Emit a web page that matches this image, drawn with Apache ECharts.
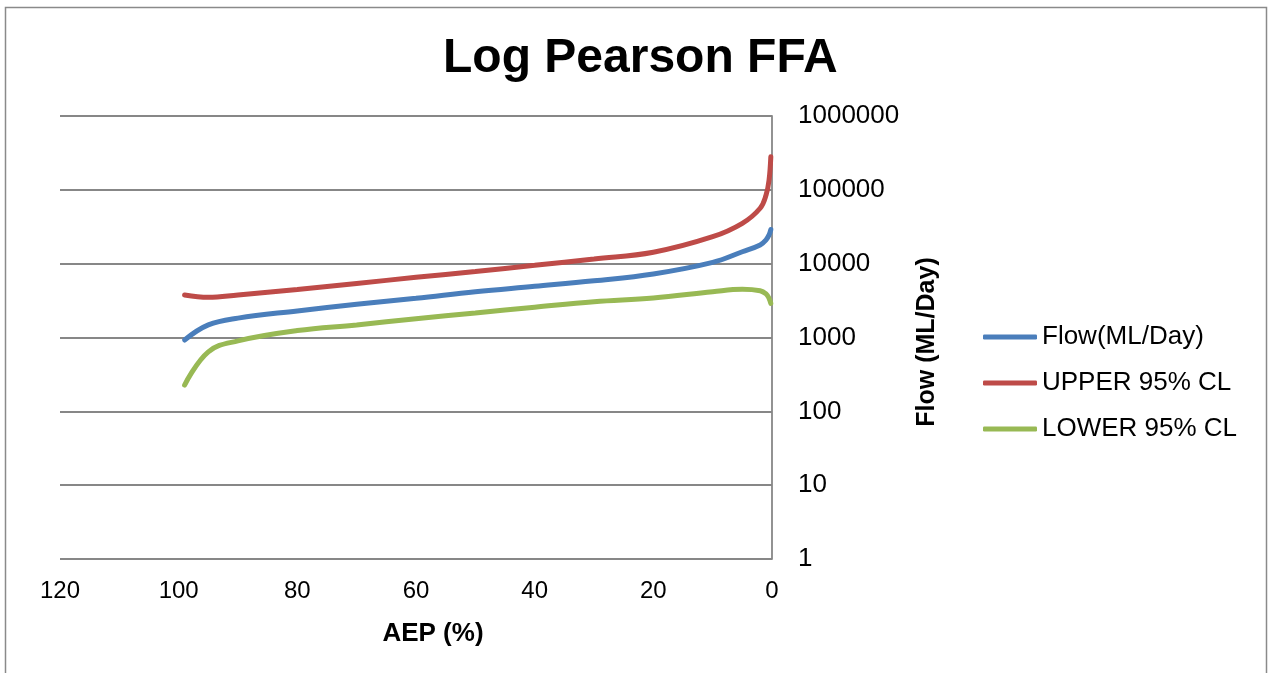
<!DOCTYPE html>
<html>
<head>
<meta charset="utf-8">
<script src="https://cdn.jsdelivr.net/npm/echarts@6/dist/echarts.min.js"></script>
<style>
  html, body { margin: 0; padding: 0; background: #ffffff; }
  #chart { width: 1269px; height: 673px; }
</style>
</head>
<body>
<div id="chart"></div>
<script>
// Annual exceedance probability (%) for each quantile
const aep = [99, 95, 90, 80, 70, 60, 50, 40, 30, 20, 10, 5, 2, 1, 0.5, 0.2];
// Flood quantiles (ML/Day)
const flow  = [925, 1480, 1830, 2290, 2820, 3390, 4170, 4930, 5860, 7250, 10400, 14500, 17900, 21000, 24500, 29000];
const upper = [3770, 3500, 3770, 4470, 5400, 6530, 7840, 9500, 11600, 14300, 23200, 35200, 56300, 85000, 135000, 280000];
const lower = [227, 640, 900, 1240, 1480, 1800, 2150, 2570, 3050, 3430, 4170, 4500, 4300, 3890, 3400, 2900];

const xTickLabels = ['0', '20', '40', '60', '80', '100', '120'];
const yTickLabels = ['1', '10', '100', '1000', '10000', '100000', '1000000'];

const seriesNames = ['Flow(ML/Day)', 'UPPER 95% CL', 'LOWER 95% CL'];
const seriesColors = ['#4A7EBB', '#BE4B48', '#98B954'];

function pairs(values) {
  return aep.map((p, i) => [p, values[i]]);
}

const chart = echarts.init(document.getElementById('chart'), null, { renderer: 'canvas' });

const fontFamily = 'Liberation Sans, Arial, sans-serif';

chart.setOption({
  animation: false,
  backgroundColor: '#ffffff',
  title: {
    text: 'Log Pearson FFA',
    left: 438,
    top: 30,
    textStyle: { fontFamily, fontSize: 48, fontWeight: 'bold', color: '#000' }
  },
  graphic: [{
    type: 'rect',
    shape: { x: 5.5, y: 7.5, width: 1261, height: 700 },
    style: { fill: 'none', stroke: '#8a8a8a', lineWidth: 1.5 },
    silent: true
  }],
  legend: {
    orient: 'vertical',
    left: 978,
    top: 319,
    icon: 'roundRect',
    itemWidth: 54,
    itemHeight: 5,
    itemGap: 20,
    data: seriesNames,
    textStyle: { fontFamily, fontSize: 26, color: '#000' }
  },
  grid: { left: 60, right: 497, top: 116, bottom: 114 },
  xAxis: {
    type: 'value',
    inverse: true,
    min: 0,
    max: 120,
    interval: 20,
    name: 'AEP (%)',
    nameLocation: 'middle',
    nameGap: 62,
    nameTextStyle: { fontFamily, fontSize: 26, fontWeight: 'bold', color: '#000', padding: [0, 0, 0, 34] },
    axisLine: { show: false },
    axisTick: { show: false },
    splitLine: { show: false },
    axisLabel: {
      margin: 20,
      fontFamily, fontSize: 24, color: '#000',
      formatter: (v, i) => xTickLabels[i]
    }
  },
  yAxis: {
    type: 'log',
    logBase: 10,
    min: 1,
    max: 1000000,
    position: 'right',
    name: 'Flow (ML/Day)',
    nameLocation: 'middle',
    nameRotate: 90,
    nameGap: 143,
    nameTextStyle: { fontFamily, fontSize: 25, fontWeight: 'bold', color: '#000', padding: [0, 9, 0, 0] },
    axisLine: { show: true, lineStyle: { color: '#878787', width: 1.8 } },
    axisTick: { show: false },
    splitLine: { show: true, lineStyle: { color: '#878787', width: 1.8 } },
    axisLabel: {
      margin: 26,
      fontFamily, fontSize: 26, color: '#000',
      formatter: (v, i) => yTickLabels[i]
    }
  },
  series: seriesNames.map((name, k) => ({
    name,
    type: 'line',
    data: pairs([flow, upper, lower][k]),
    smooth: 0.4,
    symbol: 'none',
    color: seriesColors[k],
    lineStyle: { width: 5, color: seriesColors[k], cap: 'round' }
  }))
});
</script>
</body>
</html>
